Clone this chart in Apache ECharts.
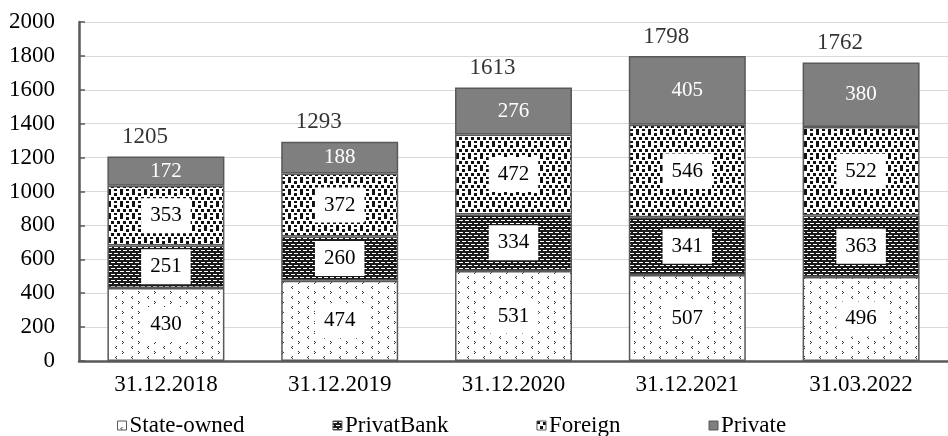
<!DOCTYPE html>
<html>
<head>
<meta charset="utf-8">
<script src="https://cdn.jsdelivr.net/npm/echarts@6/dist/echarts.min.js"></script>
<style>
  html, body { margin: 0; padding: 0; background: #fff; }
  #chart { width: 948px; height: 436px; }
</style>
</head>
<body>
<div id="chart"></div>
<script>
// Bank groups, values per reporting date
const categories = ['31.12.2018', '31.12.2019', '31.12.2020', '31.12.2021', '31.03.2022'];
const stateOwned = [430, 474, 531, 507, 496];
const privatBank = [251, 260, 334, 341, 363];
const foreign    = [353, 372, 472, 546, 522];
const privateBanks = [172, 188, 276, 405, 380];
const totals     = [1205, 1293, 1613, 1798, 1762];
const yTicks = { min: 0, max: 2000, interval: 200 };

const FONT = '"Liberation Serif", "Times New Roman", serif';
const EDGE = '#595959';

// Small tiled fills for the hatched segments
function tile(w, h, bg, fg, rects) {
  const c = document.createElement('canvas');
  c.width = w; c.height = h;
  const g = c.getContext('2d');
  g.fillStyle = bg; g.fillRect(0, 0, w, h);
  g.fillStyle = fg;
  rects.forEach(r => g.fillRect(r[0], r[1], r[2], r[3]));
  return { image: c, repeat: 'repeat' };
}

// sparse chevron marks
const dotFill = tile(16, 10, '#ffffff', '#333333', [
  [10, 1, 1, 1], [11, 2, 1, 1], [10, 3, 1, 1],
  [4, 6, 1, 1], [3, 7, 1, 1], [4, 8, 1, 1]
]);
// white dashes on black
const brickFill = tile(6, 6, '#1a1a1a', '#ffffff', [
  [0, 1, 4, 1], [3, 4, 3, 1], [0, 4, 1, 1]
]);
// scattered black squares
const squareFill = tile(12, 12, '#ffffff', '#111111', [
  [0, 0, 3, 3], [6, 1, 3, 3], [3, 5, 3, 3], [9, 5, 3, 3], [0, 9, 3, 3], [6, 9, 3, 2]
]);

const boxLabel = {
  show: true,
  position: 'inside',
  fontFamily: FONT,
  fontSize: 21,
  color: '#000',
  backgroundColor: '#ffffff',
  padding: [7, 9]
};

function segment(name, data, fill, label) {
  return {
    name: name,
    type: 'bar',
    stack: 'total',
    data: data,
    barWidth: 117,
    itemStyle: { color: fill, borderColor: EDGE, borderWidth: 1.5 },
    label: label,
    emphasis: { disabled: true }
  };
}

const chart = echarts.init(document.getElementById('chart'), null, { renderer: 'canvas' });
chart.setOption({
  animation: false,
  backgroundColor: '#ffffff',
  grid: { left: 79, right: -11, top: 22, bottom: 75, containLabel: false },
  legend: {
    top: 414,
    left: 117,
    padding: 0,
    itemWidth: 9,
    itemHeight: 9,
    itemGap: 88,
    icon: 'rect',
    data: ['State-owned', 'PrivatBank', 'Foreign', 'Private'],
    itemStyle: { borderColor: EDGE, borderWidth: 1 },
    textStyle: { fontFamily: FONT, fontSize: 23, color: '#000', padding: [0, 0, 0, -2] }
  },
  xAxis: {
    type: 'category',
    data: categories,
    axisLine: { lineStyle: { color: EDGE, width: 2.5 } },
    axisTick: { show: false },
    axisLabel: { fontFamily: FONT, fontSize: 23, color: '#000', margin: 12 }
  },
  yAxis: {
    type: 'value',
    min: yTicks.min,
    max: yTicks.max,
    interval: yTicks.interval,
    axisLine: { show: true, lineStyle: { color: EDGE, width: 2.5 } },
    axisTick: { show: true, inside: true, length: 6, lineStyle: { color: EDGE, width: 1.5 } },
    splitLine: { lineStyle: { color: '#d9d9d9', width: 1 } },
    axisLabel: { fontFamily: FONT, fontSize: 23, color: '#000', margin: 24, formatter: v => String(v) }
  },
  series: [
    segment('State-owned', stateOwned, dotFill, boxLabel),
    segment('PrivatBank', privatBank, brickFill, boxLabel),
    segment('Foreign', foreign, squareFill, boxLabel),
    segment('Private', privateBanks, '#7f7f7f', {
      show: true, position: 'inside', fontFamily: FONT, fontSize: 21, color: '#ffffff'
    }),
    {
      name: 'Total',
      type: 'scatter',
      data: totals,
      symbolSize: 2,
      itemStyle: { color: 'rgba(0,0,0,0)' },
      silent: true,
      z: 5,
      label: {
        show: true, position: 'top', distance: 7, offset: [-21, 0],
        fontFamily: FONT, fontSize: 23, color: '#000'
      }
    }
  ]
});
</script>
</body>
</html>
